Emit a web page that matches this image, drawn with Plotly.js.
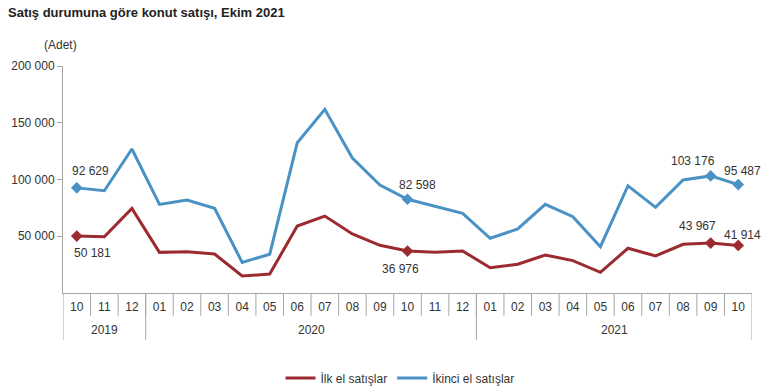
<!DOCTYPE html>
<html>
<head>
<meta charset="utf-8">
<script src="https://cdn.plot.ly/plotly-3.0.1.min.js"></script>
<style>html,body{margin:0;padding:0;background:#fff;}#chart{width:770px;height:392px;}</style>
</head>
<body>
<div id="chart"></div>
<script>
var yearLabels = ["2019","2019","2019",
  "2020","2020","2020","2020","2020","2020","2020","2020","2020","2020","2020","2020",
  "2021","2021","2021","2021","2021","2021","2021","2021","2021","2021"];
var monthLabels = ["10","11","12",
  "01","02","03","04","05","06","07","08","09","10","11","12",
  "01","02","03","04","05","06","07","08","09","10"];
var ilkEl = [50181, 49600, 74600, 35800, 36400, 34400, 15000, 16700, 59000, 67800, 52000, 42000, 36976,
  35900, 37000, 22300, 25300, 33500, 28500, 18200, 39400, 32600, 42900, 43967, 41914];
var ikinciEl = [92629, 90100, 126900, 78100, 81900, 74600, 27000, 34100, 132400, 161800, 118900, 95100, 82598,
  76600, 70200, 48200, 56400, 78100, 67200, 40800, 94500, 75500, 99600, 103176, 95487];
var labeledIdx = [0, 12, 23, 24];
var seriesNames = ["İlk el satışlar", "İkinci el satışlar"];
var yTicks = [50000, 100000, 150000, 200000];

// styling
var RED = "#9B2B30", BLUE = "#4A92C4", AXIS = "#A6A6A6", TXT = "#333333";
var FONT = "Liberation Sans, Arial, sans-serif";
// label offsets (px) per labeled point: [dx, dy] (dy positive = up)
var blueOff = [[14, 17], [10, 14], [-18, 15], [4, 14]];
var redOff = [[16, -17], [-7, -18], [-13, 17], [4, 10]];

function fmt(v) { return String(v).replace(/\B(?=(\d{3})+(?!\d))/g, " "); }
function pick(arr, idx) { return idx.map(function (i) { return arr[i]; }); }

var n = monthLabels.length;
var xIdx = monthLabels.map(function (_, i) { return i; });

var traces = [
  { type: "scatter", mode: "lines", name: seriesNames[0], x: xIdx, y: ilkEl,
    line: { color: RED, width: 3 } },
  { type: "scatter", mode: "lines", name: seriesNames[1], x: xIdx, y: ikinciEl,
    line: { color: BLUE, width: 3 } },
  { type: "scatter", mode: "markers", showlegend: false, x: labeledIdx,
    y: pick(ilkEl, labeledIdx), marker: { symbol: "diamond", size: 9, color: RED } },
  { type: "scatter", mode: "markers", showlegend: false, x: labeledIdx,
    y: pick(ikinciEl, labeledIdx), marker: { symbol: "diamond", size: 9, color: BLUE } }
];

var annotations = [];
labeledIdx.forEach(function (i, k) {
  annotations.push({ xref: "x", yref: "y", x: i, y: ikinciEl[i], text: fmt(ikinciEl[i]),
    showarrow: false, xshift: blueOff[k][0], yshift: blueOff[k][1], font: { size: 12, color: TXT, family: FONT } });
  annotations.push({ xref: "x", yref: "y", x: i, y: ilkEl[i], text: fmt(ilkEl[i]),
    showarrow: false, xshift: redOff[k][0], yshift: redOff[k][1], font: { size: 12, color: TXT, family: FONT } });
});
annotations.push({ xref: "paper", yref: "paper", x: -0.003, y: 1.092, text: "(Adet)", showarrow: false,
  xanchor: "center", yanchor: "middle", font: { size: 12, color: TXT, family: FONT } });

// year groups: labels and dividers
var shapes = [];
var groups = [];
yearLabels.forEach(function (yr, i) {
  if (!groups.length || groups[groups.length - 1].yr !== yr) groups.push({ yr: yr, start: i, end: i });
  else groups[groups.length - 1].end = i;
});
groups.forEach(function (g, gi) {
  annotations.push({ xref: "x", yref: "paper", x: (g.start + g.end) / 2, y: -0.163, text: g.yr, showarrow: false,
    xanchor: "center", yanchor: "middle", font: { size: 12, color: TXT, family: FONT } });
  shapes.push({ type: "line", xref: "x", yref: "paper", x0: g.start - 0.5, x1: g.start - 0.5, y0: 0, y1: -0.207,
    line: { color: AXIS, width: 1 }, layer: "above" });
  if (gi === groups.length - 1)
    shapes.push({ type: "line", xref: "x", yref: "paper", x0: g.end + 0.5, x1: g.end + 0.5, y0: 0, y1: -0.207,
      line: { color: AXIS, width: 1 }, layer: "above" });
});
for (var k = 1; k < n; k++) {
  shapes.push({ type: "line", xref: "x", yref: "paper", x0: k - 0.5, x1: k - 0.5, y0: 0, y1: -0.1,
    line: { color: AXIS, width: 1 }, layer: "above" });
}

var layout = {
  width: 770, height: 392,
  margin: { l: 63, r: 18, t: 66, b: 99 },
  paper_bgcolor: "#fff", plot_bgcolor: "#fff",
  font: { family: FONT, size: 12, color: TXT },
  separators: ", ",
  title: { text: "Satış durumuna göre konut satışı, Ekim 2021", xref: "container", yref: "container",
    x: 8 / 770, xanchor: "left", y: 1 - 12 / 392, yanchor: "middle",
    font: { size: 13, weight: "bold", color: "#222", family: FONT } },
  xaxis: { range: [-0.5, n - 0.5], showgrid: false, zeroline: false, showline: true, linecolor: AXIS, linewidth: 1,
    ticks: "", tickvals: xIdx, ticktext: monthLabels, tickangle: 0, automargin: false, ticklabelstandoff: 3,
    tickfont: { size: 12, color: TXT, family: FONT } },
  yaxis: { range: [0, 200000], showgrid: false, zeroline: false, showline: true, linecolor: AXIS, linewidth: 1,
    ticks: "outside", ticklen: 5, tickcolor: AXIS, tickvals: yTicks, tickformat: ",d", automargin: false,
    tickfont: { size: 12, color: TXT, family: FONT } },
  showlegend: true,
  legend: { orientation: "h", xref: "container", yref: "container", x: 400 / 770, xanchor: "center",
    y: 1 - 378 / 392, yanchor: "middle",
    itemwidth: 30, font: { size: 12, color: TXT, family: FONT } },
  annotations: annotations,
  shapes: shapes
};

Plotly.newPlot("chart", traces, layout, { displayModeBar: false, staticPlot: true });
</script>
</body>
</html>
